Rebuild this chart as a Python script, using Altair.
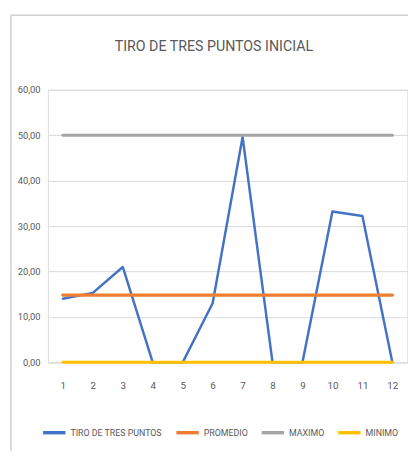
import altair as alt
import pandas as pd

partidos = [1, 2, 3, 4, 5, 6, 7, 8, 9, 10, 11, 12]
tiro_tres = [14.0, 15.3, 21.0, 0.0, 0.0, 13.0, 49.6, 0.0, 0.0, 33.2, 32.2, 0.0]
promedio = [14.8] * 12
maximo = [50.0] * 12
minimo = [0.0] * 12

series_names = ["TIRO DE TRES PUNTOS", "PROMEDIO", "MAXIMO", "MINIMO"]
series_vals = [tiro_tres, promedio, maximo, minimo]
colors = ["#4472C4", "#ED7D31", "#A5A5A5", "#FFC000"]
widths = [2.5, 3.5, 3.2, 3.0]
titulo = "TIRO DE TRES PUNTOS INICIAL"

rows = []
for name, vals in zip(series_names, series_vals):
    for p, v in zip(partidos, vals):
        rows.append({"partido": p, "valor": v, "serie": name})
df = pd.DataFrame(rows)

FONT = "Roboto, sans-serif"
W, H = 366.6, 278
OX, OY = 48.7, 87  # page position of plot origin

color_scale = alt.Scale(domain=series_names, range=colors)

base = alt.Chart(df)
layers = []
for i, (name, sw) in enumerate(zip(series_names, widths)):
    enc = dict(
        x=alt.X("partido:O", scale=alt.Scale(padding=0.5),
                axis=alt.Axis(title=None, labelAngle=0, ticks=False, domain=True,
                              domainColor="#D9D9D9", labelPadding=19, grid=False,
                              labelFontSize=10, labelColor="#595959", labelFont=FONT)),
        y=alt.Y("valor:Q", scale=alt.Scale(domain=[0, 60], nice=False),
                axis=alt.Axis(title=None, values=[0, 10, 20, 30, 40, 50, 60],
                              labelExpr="replace(format(datum.value, '.2f'), '.', ',')",
                              ticks=False, domain=False, gridColor="#D9D9D9",
                              labelPadding=8, labelFontSize=9.5, labelColor="#595959",
                              labelFont=FONT)),
        color=alt.Color("serie:N", scale=color_scale, sort=series_names,
                        legend=alt.Legend(title=None, orient="none", direction="horizontal",
                                          legendX=-7, legendY=336, symbolType="stroke",
                                          symbolSize=520, symbolStrokeWidth=3.5,
                                          labelFont=FONT, labelFontSize=9,
                                          labelColor="#595959", labelOffset=3,
                                          columnPadding=7)),
    )
    layers.append(
        base.transform_filter(alt.datum.serie == name)
        .mark_line(strokeWidth=sw, strokeCap="round", strokeJoin="round")
        .encode(**enc)
    )

one = pd.DataFrame({"t": [titulo]})
title_mark = alt.Chart(one).mark_text(
    font=FONT, fontSize=14.5, color="#595959", align="center", baseline="middle"
).encode(text="t:N", x=alt.value(218 - OX), y=alt.value(43 - OY))

# chart border (Excel chart frame)
border_v = alt.Chart(one).mark_rule(color="#D0D0D0", strokeWidth=1.5).encode(
    x=alt.value(11 - OX), y=alt.value(11 - OY), y2=alt.value(459 - OY))
border_h = alt.Chart(one).mark_rule(color="#D0D0D0", strokeWidth=1.5).encode(
    x=alt.value(11 - OX), x2=alt.value(420 - OX), y=alt.value(11 - OY))

chart = alt.layer(border_v, border_h, title_mark, *layers).properties(
    width=W, height=H,
    autosize=alt.AutoSizeParams(type="none"),
    padding={"left": OX - 8, "top": OY - 8, "right": 0.7, "bottom": 86},
).configure_view(stroke=None).configure(background="white")

chart.save("out.html", embed_options={"renderer": "svg", "actions": False})
